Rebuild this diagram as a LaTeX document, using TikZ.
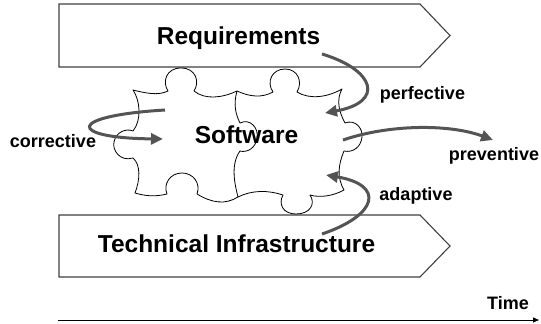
\documentclass[tikz,border=0pt]{standalone}
\usepackage{fontspec}
\setmainfont{Liberation Sans}
\usetikzlibrary{arrows.meta}
\begin{document}
\begin{tikzpicture}[x=1pt,y=-1pt,
  phase/.style={draw=black!75,line width=1.1pt,fill=white},
  piece/.style={draw=black,line width=0.8pt,line join=round},
  bigtext/.style={font=\fontsize{24.5}{28}\selectfont\bfseries,inner sep=0pt,anchor=base},
  smalltext/.style={font=\fontsize{18}{21}\selectfont\bfseries,inner sep=0pt,anchor=base},
  change/.style={draw=black!67,line width=3pt,-{Triangle[length=12pt,width=11pt]}},
  timeline/.style={draw=black,line width=0.8pt,-{Triangle[length=6pt,width=5pt]}}]
\useasboundingbox (0,0) rectangle (541,324);

% the two phases, drawn as pointed bands
\draw[phase] (59,4) -- (420,4) -- (450,35.5) -- (420,67) -- (59,67) -- cycle;
\draw[phase] (59,215) -- (420,215) -- (450,246) -- (420,277) -- (59,277) -- cycle;

% left jigsaw piece
\draw[piece] (133,90)
  .. controls (145,93) and (158,96) .. (168,91)
  .. controls (162,82) and (166,68) .. (181,68)
  .. controls (196,68) and (200,82) .. (194,91)
  .. controls (205,100) and (222,98) .. (237,91)
  .. controls (233,105) and (236,115) .. (240,123)
  .. controls (250,118) and (259,128) .. (257,138)
  .. controls (256,148) and (247,153) .. (240,151)
  .. controls (230,165) and (235,185) .. (238,197)
  .. controls (225,205) and (212,203) .. (197,194)
  .. controls (201,183) and (193,173) .. (182,173)
  .. controls (170,173) and (163,184) .. (167,194)
  .. controls (155,197) and (145,196) .. (135,193)
  .. controls (140,180) and (141,165) .. (133,158)
  .. controls (120,162) and (112,150) .. (114,142)
  .. controls (116,132) and (126,128) .. (133,131)
  .. controls (142,120) and (140,100) .. (133,90) -- cycle;

% right jigsaw piece (its left side is shared with the left piece)
\draw[piece] (237,91)
  .. controls (250,97) and (262,98) .. (273,92)
  .. controls (266,82) and (272,69) .. (285,69)
  .. controls (298,69) and (303,82) .. (297,92)
  .. controls (310,100) and (328,97) .. (342,89)
  .. controls (336,100) and (339,112) .. (345,123)
  .. controls (355,119) and (363,128) .. (362,137)
  .. controls (361,147) and (353,153) .. (344,151)
  .. controls (338,165) and (337,178) .. (344,190)
  .. controls (333,196) and (320,198) .. (310,195)
  .. controls (316,204) and (310,214) .. (296,214)
  .. controls (283,214) and (278,204) .. (283,195)
  .. controls (268,190) and (252,190) .. (238,197);

% labels
\node[bigtext] (req) at (238.5,44) {Requirements};
\node[bigtext] (tech) at (236.5,252) {Technical Infrastructure};
\node[bigtext] (sw) at (246.5,143) {Software};
\node[smalltext] (perf) at (422.5,99) {perfective};
\node[smalltext] (corr) at (53,147) {corrective};
\node[smalltext] (prev) at (494,160) {preventive};
\node[smalltext] (adap) at (416,200) {adaptive};
\node[smalltext] (time) at (508,309) {Time};

% end points of the maintenance arrows
\coordinate (perfA) at (322,54);  \coordinate (perfB) at (325,113);
\coordinate (corrA) at (165,110); \coordinate (corrB) at (163,139);
\coordinate (prevA) at (343,140); \coordinate (prevB) at (493,140);
\coordinate (adapA) at (322,234); \coordinate (adapB) at (326,175);

\draw[change] (perfA) .. controls (375,70) and (385,102) .. (perfB);
\draw[change] (corrA) .. controls (65,116) and (68,138) .. (corrB);
\draw[change] (prevA) .. controls (390,124) and (450,124) .. (prevB);
\draw[change] (adapA) .. controls (378,215) and (385,185) .. (adapB);

% time axis
\coordinate (t0) at (58,320);
\coordinate (t1) at (539,320);
\draw[timeline] (t0) -- (t1);
\end{tikzpicture}
\end{document}
